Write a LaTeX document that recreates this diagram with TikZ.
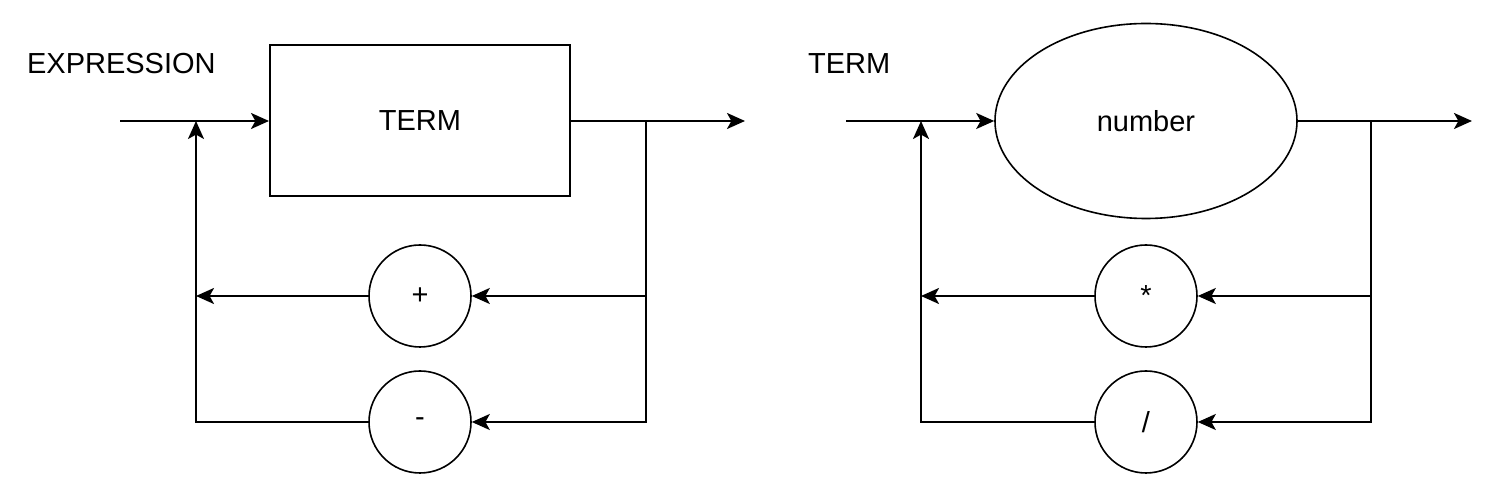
\documentclass[tikz,border=0pt]{standalone}
\usepackage{fontspec}
\setmainfont{Liberation Sans}
\usetikzlibrary{arrows.meta,shapes.geometric}
\begin{document}
\begin{tikzpicture}[x=0.5pt,y=-0.5pt,
    every node/.style={font=\fontsize{14.5}{17}\selectfont},
    line/.style={line width=1.1pt},
    flow/.style={line, -{Stealth[length=9pt,width=8pt,inset=2.2pt]}},
    box/.style={draw, line width=1pt, minimum width=150pt, minimum height=75.5pt},
    blob/.style={draw, ellipse, line width=0.8pt, minimum width=151pt, minimum height=97.5pt},
    op/.style={draw, circle, line width=0.8pt, minimum size=51pt, inner sep=0pt}]
  \useasboundingbox (0,0) rectangle (1490,485);
  % EXPRESSION
  \node[anchor=west] (exprlbl) at (20,64) {EXPRESSION};
  \node[box] (term) at (420,121) {TERM};
  \node[op] (plus) at (420,296) {+};
  \node[op] (minus) at (420,422) {-};
  \coordinate (ein) at (120,121);
  \coordinate (ejoin) at (196,121);
  \coordinate (esplit) at (646,121);
  \coordinate (eout) at (745,121);
  \draw[flow] (ein) -- (term.west);
  \draw[flow] (term.east) -- (eout);
  \draw[flow] (esplit) |- (plus.east);
  \draw[flow] (esplit) |- (minus.east);
  \draw[flow] (plus.west) -- (ejoin |- plus);
  \draw[flow] (minus.west) -| (ejoin);
  % TERM
  \node[anchor=west] (termlbl) at (801,64) {TERM};
  \node[blob] (num) at (1146,121) {number};
  \node[op] (times) at (1146,296) {*};
  \node[op] (divide) at (1146,422) {/};
  \coordinate (tin) at (846,121);
  \coordinate (tjoin) at (921,121);
  \coordinate (tsplit) at (1371,121);
  \coordinate (tout) at (1472,121);
  \draw[flow] (tin) -- (num.west);
  \draw[flow] (num.east) -- (tout);
  \draw[flow] (tsplit) |- (times.east);
  \draw[flow] (tsplit) |- (divide.east);
  \draw[flow] (times.west) -- (tjoin |- times);
  \draw[flow] (divide.west) -| (tjoin);
\end{tikzpicture}
\end{document}
